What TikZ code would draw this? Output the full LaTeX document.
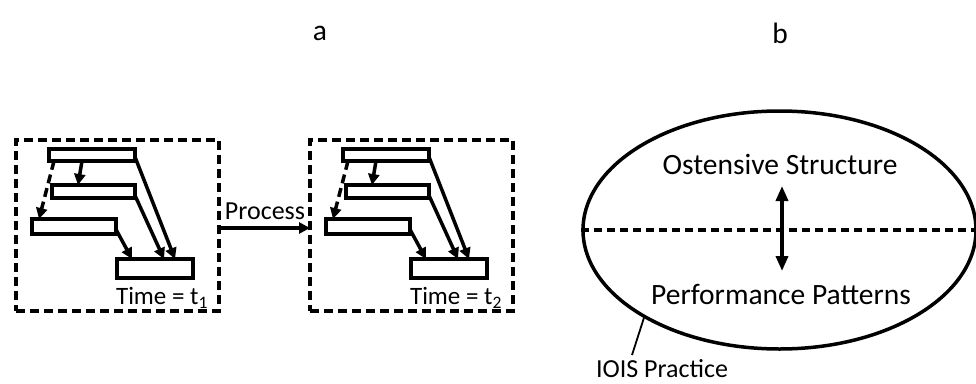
\documentclass[tikz,border=0pt]{standalone}
\usepackage{fontspec}
\setmainfont{Carlito}
\usetikzlibrary{arrows.meta,calc,shapes.geometric}
\tikzset{
  bx/.style={draw,line width=4pt,rectangle,inner sep=0pt,outer sep=0pt,fill=white},
  frame/.style={draw,line width=4pt,dash pattern=on 9pt off 5pt,rectangle,inner sep=0pt,outer sep=0pt,minimum width=203pt,minimum height=171pt},
  arr/.style={line width=3.5pt,-{Triangle[length=11pt,width=11pt]}},
  darr/.style={line width=3.5pt,dash pattern=on 9pt off 5pt,-{Triangle[length=11pt,width=11pt]}},
  lab/.style={font=\fontsize{29.5}{34}\selectfont,inner sep=0pt},
  tlab/.style={font=\fontsize{26}{30}\selectfont,inner sep=0pt}
}
\begin{document}
\begin{tikzpicture}[x=1pt,y=-1pt]
\useasboundingbox[fill=white] (0,0) rectangle (976,383);
\node[lab] (la) at (320,33) {a};
\node[lab] (lb) at (780,33) {b};
\foreach \g/\dx/\s in {L/0/1,R/294/2}{
  \begin{scope}[xshift=\dx pt]
    \node[frame] (fr\g) at (117.5,225.5) {};
    \node[bx,minimum width=86pt,minimum height=12pt] (b1\g) at (92,155) {};
    \node[bx,minimum width=83pt,minimum height=13pt] (b2\g) at (93.5,191.5) {};
    \node[bx,minimum width=84pt,minimum height=15pt] (b3\g) at (74,226.5) {};
    \node[bx,minimum width=76pt,minimum height=19pt] (b4\g) at (155,268.5) {};
    \node[tlab,font=\fontsize{25}{29}\selectfont] (t\g) at (162,298) {Time = t\textsubscript{\s}};
    \draw[arr] ($(b1\g.south west)+(33,0)$) -- ($(b2\g.north west)+(26,0)$);
    \draw[darr] ($(b1\g.south west)+(5,0)$) -- ($(b3\g.north west)+(7,0)$);
    \draw[arr] ($(b1\g.east)+(0,2)$) -- ($(b4\g.north west)+(58,0)$);
    \draw[arr] ($(b2\g.east)+(0,4)$) -- ($(b4\g.north west)+(47,0)$);
    \draw[arr] ($(b3\g.east)+(0,3)$) -- ($(b4\g.north west)+(15,0)$);
  \end{scope}
}
\draw[arr] ($(frL.east)+(0,2.5)$) -- ($(frR.west)+(0,2.5)$);
\node[tlab] (proc) at (265,211) {Process};
% right part
\node[draw,line width=3.5pt,ellipse,minimum width=393pt,minimum height=238pt,inner sep=0pt] (ell) at (779.5,230) {};
\draw[line width=3.5pt,dash pattern=on 8pt off 5pt] (ell.west) -- (ell.east);
\node[lab] (os) at (780,164) {Ostensive Structure};
\node[lab] (pp) at (781,294) {Performance Patterns};
\coordinate (au) at (782,186);
\coordinate (ad) at (782,271);
\draw[line width=3.5pt,{Triangle[length=15pt,width=12pt]}-{Triangle[length=15pt,width=12pt]}] (au) -- (ad);
\node[tlab] (ip) at (662,369) {IOIS Practice};
\coordinate (ipt) at (632,355);
\draw[line width=1.8pt] (ipt) -- (ell.213);
\end{tikzpicture}
\end{document}
